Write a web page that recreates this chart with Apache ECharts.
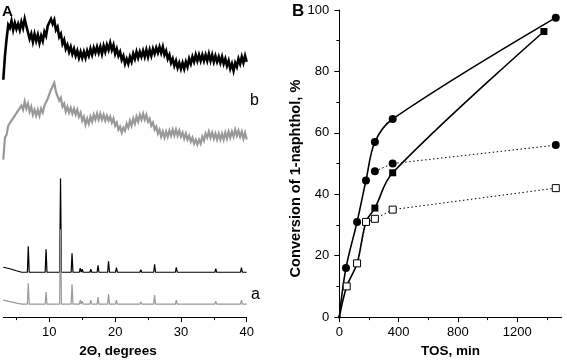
<!DOCTYPE html>
<html>
<head>
<meta charset="utf-8">
<script src="https://cdn.jsdelivr.net/npm/echarts@6/dist/echarts.min.js"></script>
<style>
  html, body { margin: 0; padding: 0; background: #fff; }
  #chart { width: 567px; height: 363px; }
</style>
</head>
<body>
<div id="chart"></div>
<script>
// ---- panel A: XRD patterns ----
// amorphous scans (b), sampled every 0.25 deg from 3 deg
const scanStart = 3
const scanStep = 0.25
const amorphBlack = [
  238, 262, 279, 293, 290, 297, 288, 295, 289, 294,
  288, 296, 290, 299, 292, 294, 279, 284, 276, 284,
  277, 283, 275, 282, 277, 286, 282, 292, 290, 299,
  294, 298, 288, 291, 281, 284, 274, 278, 269, 273,
  266, 271, 264, 269, 262, 267, 260, 266, 260, 266,
  260, 267, 262, 269, 263, 270, 265, 271, 265, 271,
  264, 272, 266, 273, 268, 275, 268, 273, 264, 269,
  262, 266, 258, 262, 254, 259, 254, 261, 256, 264,
  259, 266, 260, 266, 261, 267, 261, 268, 261, 268,
  262, 269, 264, 270, 265, 271, 265, 271, 263, 267,
  259, 263, 255, 259, 252, 257, 250, 255, 249, 255,
  249, 256, 251, 259, 254, 261, 256, 263, 257, 263,
  257, 263, 257, 263, 257, 264, 257, 263, 256, 262,
  256, 261, 255, 261, 254, 259, 252, 257, 249, 254,
  247, 255, 251, 259, 254, 261, 255, 262, 256
]
const amorphGray = [
  158, 180, 183, 192, 190, 197, 195, 202, 200, 207,
  205, 212, 208, 216, 209, 214, 206, 211, 203, 208,
  202, 208, 202, 209, 205, 212, 211, 219, 218, 228,
  226, 235, 226, 227, 217, 220, 211, 214, 206, 211,
  205, 210, 204, 209, 203, 208, 201, 205, 197, 201,
  193, 199, 194, 201, 196, 203, 198, 204, 198, 204,
  198, 203, 197, 202, 197, 201, 195, 199, 192, 195,
  188, 191, 185, 190, 187, 194, 190, 197, 192, 199,
  194, 201, 196, 203, 198, 204, 198, 203, 196, 199,
  192, 195, 188, 191, 184, 188, 181, 186, 180, 186,
  181, 187, 182, 188, 182, 188, 182, 187, 181, 185,
  179, 184, 178, 182, 176, 180, 174, 178, 173, 178,
  174, 181, 177, 184, 180, 186, 180, 185, 179, 184,
  178, 184, 178, 184, 178, 185, 179, 186, 180, 186,
  181, 188, 182, 187, 181, 186, 179, 185, 178
]

// crystalline patterns (a): peak positions and heights above baseline
const peakPos = [6.8, 9.5, 11.7, 13.45, 14.7, 15.0, 16.3, 17.4, 19.0, 20.2, 21.3, 22.9, 23.5, 23.9, 24.3, 26.0, 27.7, 29.3, 30.2, 31.0, 32.4, 35.3, 39.2]
const peakBlack = [26, 23, 94, 19, 4, 3, 3, 7, 11, 4.5, 2, 1.5, 1, 2.5, 2, 8, 1.5, 5, 2, 2, 1.5, 3.5, 4.5]
const peakGray = [21, 12, 75, 20, 4, 3, 4, 7, 10, 4, 2, 2, 2, 2.5, 2, 9, 1.5, 4, 2, 1.5, 1.5, 3, 4]
const leadPos = [3, 4, 5, 5.8]
const leadBlack = [50, 48.5, 46.5, 45]
const leadGray = [17, 15.5, 14, 13]
const baseBlack = 45
const baseGray = 13
const scanEnd = 40

const thetaTicks = [10, 20, 30, 40]
const thetaMinor = [5, 15, 25, 35]

// ---- panel B: conversion vs TOS ----
const tosCircle = [0, 45, 120, 180, 240, 360, 1460]
const convCircle = [0, 16, 31, 44.5, 57, 64.5, 97.5]
const tosCircleDot = [240, 360, 1460]
const convCircleDot = [47.5, 50, 56]
const tosSqFit = [0, 50, 120, 180, 240, 360, 1380]
const convSqFit = [0, 10, 17.5, 31, 35.5, 47, 93]
const tosSqFilled = [240, 360, 1380]
const convSqFilled = [35.5, 47, 93]
const tosSqOpen = [50, 120, 180, 240, 360, 1460]
const convSqOpen = [10, 17.5, 31, 32, 35, 42]

const tosTicks = [0, 400, 800, 1200]
const tosMinor = [200, 600, 1000, 1400]

const FONT = 'Liberation Sans, Arial, Helvetica, sans-serif'
const peakHalf = 0.14

const pairs = (xs, ys) => xs.map((x, i) => [x, ys[i]])
const scan = (vals) => vals.map((v, i) => [scanStart + i * scanStep, v])
const crystTrace = (lead, heights, base) => {
  const pts = pairs(leadPos, lead)
  peakPos.forEach((p, i) => {
    pts.push([p - peakHalf, base], [p, base + heights[i]], [p + peakHalf, base])
  })
  pts.push([scanEnd, base])
  return pts
}

const black = '#000'
const gray = '#999'
const axisLine = { show: true, onZero: false, lineStyle: { color: black, width: 1 } }
const tickLabel = { color: black, fontSize: 13, fontFamily: FONT, formatter: (v) => String(v) }
const nameStyle = { color: black, fontSize: 13.5, fontWeight: 'bold', fontFamily: FONT }

const chart = echarts.init(document.getElementById('chart'))

chart.setOption({
  animation: false,
  textStyle: { fontFamily: FONT },
  grid: [
    { left: 3.3, top: 0, width: 243.4, height: 318 },
    { left: 339.3, top: 10, width: 222.4, height: 308 }
  ],
  xAxis: [
    {
      gridIndex: 0, type: 'value', position: 'bottom', min: 3, max: 40,
      name: '2Θ, degrees', nameLocation: 'middle', nameGap: 26,
      nameTextStyle: Object.assign({ padding: [0, 14, 0, 0] }, nameStyle),
      axisLine: axisLine,
      axisTick: { show: true, customValues: thetaTicks, length: 5, lineStyle: { color: black } },
      axisLabel: Object.assign({ customValues: thetaTicks, margin: 9 }, tickLabel),
      splitLine: { show: false }
    },
    {
      gridIndex: 0, type: 'value', position: 'bottom', min: 3, max: 40,
      axisLine: { show: false },
      axisTick: { show: true, customValues: thetaMinor, length: 3, lineStyle: { color: black } },
      axisLabel: { show: false },
      splitLine: { show: false }
    },
    {
      gridIndex: 1, type: 'value', position: 'bottom', min: 0, max: 1500,
      name: 'TOS, min', nameLocation: 'middle', nameGap: 26,
      nameTextStyle: nameStyle,
      axisLine: axisLine,
      axisTick: { show: true, customValues: tosTicks, length: 5, lineStyle: { color: black } },
      axisLabel: Object.assign({ customValues: tosTicks, margin: 9 }, tickLabel),
      splitLine: { show: false }
    },
    {
      gridIndex: 1, type: 'value', position: 'bottom', min: 0, max: 1500,
      axisLine: { show: false },
      axisTick: { show: true, customValues: tosMinor, length: 3, lineStyle: { color: black } },
      axisLabel: { show: false },
      splitLine: { show: false }
    }
  ],
  yAxis: [
    { gridIndex: 0, type: 'value', min: 0, max: 318, show: false },
    {
      gridIndex: 1, type: 'value', min: 0, max: 100, interval: 20,
      name: 'Conversion of 1-naphthol, %', nameLocation: 'middle', nameGap: 28,
      nameTextStyle: Object.assign({}, nameStyle, { fontSize: 14.6, padding: [0, 30, 0, 0] }),
      axisLine: axisLine,
      axisTick: { show: true, length: 5, lineStyle: { color: black } },
      minorTick: { show: true, splitNumber: 2, length: 3, lineStyle: { color: black } },
      axisLabel: Object.assign({ margin: 10 }, tickLabel),
      splitLine: { show: false }
    }
  ],
  graphic: [
    { type: 'text', left: 2, top: 4, style: { text: 'A', font: 'bold 15px ' + FONT, fill: black } },
    { type: 'text', left: 292, top: 3, style: { text: 'B', font: 'bold 17px ' + FONT, fill: black } },
    { type: 'text', left: 250, top: 93, style: { text: 'b', font: '16px ' + FONT, fill: black } },
    { type: 'text', left: 251, top: 287, style: { text: 'a', font: '16px ' + FONT, fill: black } }
  ],
  series: [
    // panel A
    {
      type: 'line', xAxisIndex: 0, yAxisIndex: 0, data: scan(amorphBlack),
      symbol: 'none', lineStyle: { color: black, width: 2.6, join: 'miter' }, silent: true
    },
    {
      type: 'line', xAxisIndex: 0, yAxisIndex: 0, data: scan(amorphGray),
      symbol: 'none', lineStyle: { color: gray, width: 2.2, join: 'miter' }, silent: true
    },
    {
      type: 'line', xAxisIndex: 0, yAxisIndex: 0, data: crystTrace(leadBlack, peakBlack, baseBlack),
      symbol: 'none', lineStyle: { color: black, width: 1.2 }, silent: true
    },
    {
      type: 'line', xAxisIndex: 0, yAxisIndex: 0, data: crystTrace(leadGray, peakGray, baseGray),
      symbol: 'none', lineStyle: { color: gray, width: 1.2 }, silent: true
    },
    // panel B
    {
      type: 'line', xAxisIndex: 2, yAxisIndex: 1, data: pairs(tosCircleDot, convCircleDot),
      symbol: 'circle', symbolSize: 8, itemStyle: { color: black },
      lineStyle: { color: black, width: 1, type: [1.5, 2.5] }
    },
    {
      type: 'line', xAxisIndex: 2, yAxisIndex: 1, data: pairs(tosSqFit, convSqFit),
      symbol: 'none', smooth: 0.35, lineStyle: { color: black, width: 1.6 }
    },
    {
      type: 'scatter', xAxisIndex: 2, yAxisIndex: 1, data: pairs(tosSqFilled, convSqFilled),
      symbol: 'rect', symbolSize: 7, itemStyle: { color: black, opacity: 1 }
    },
    {
      type: 'line', xAxisIndex: 2, yAxisIndex: 1, data: pairs(tosSqOpen, convSqOpen),
      symbol: 'rect', symbolSize: 7, showAllSymbol: true,
      itemStyle: { color: '#fff', borderColor: black, borderWidth: 1 },
      lineStyle: { color: black, width: 1, type: [1.5, 2.5] }
    },
    {
      type: 'line', xAxisIndex: 2, yAxisIndex: 1,
      data: pairs(tosCircle, convCircle).map((p, i) => (i === 0 ? { value: p, symbolSize: 3 } : p)),
      symbol: 'circle', symbolSize: 8, showAllSymbol: true, smooth: 0.35,
      itemStyle: { color: black }, lineStyle: { color: black, width: 1.6 }
    }
  ]
})
</script>
</body>
</html>
